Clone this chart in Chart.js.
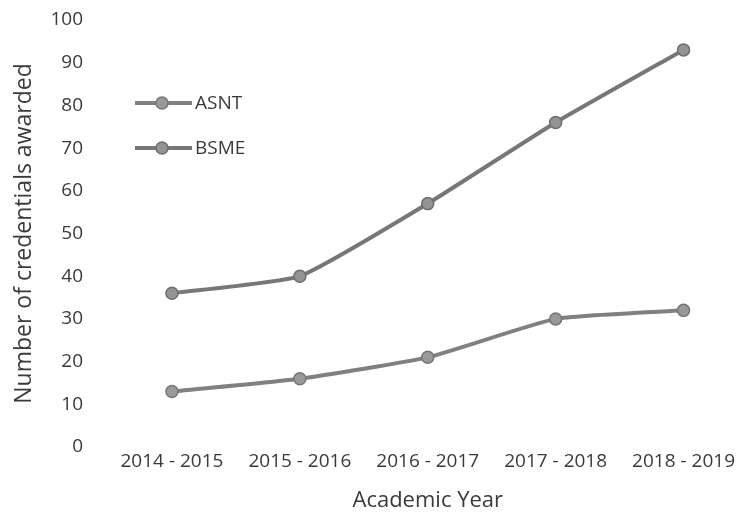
<!DOCTYPE html>
<html>
<head>
<meta charset="utf-8">
<script src="https://cdn.jsdelivr.net/npm/chart.js@4/dist/chart.umd.min.js"></script>
<style>
  html, body { margin: 0; padding: 0; background: #fff; }
  #wrap { width: 755px; height: 529px; }
</style>
</head>
<body>
<div id="wrap"><canvas id="lineChart" width="755" height="529"></canvas></div>
<script>
  // academic years and credentials awarded per program
  var years = ["2014 - 2015", "2015 - 2016", "2016 - 2017", "2017 - 2018", "2018 - 2019"];
  var asnt = [13, 16, 21, 30, 32];
  var bsme = [36, 40, 57, 76, 93];
  var yTicks = [0, 10, 20, 30, 40, 50, 60, 70, 80, 90, 100];

  var fontFamily = "'Open Sans', 'Liberation Sans', sans-serif";

  // legend sits inside the plot, line-with-marker swatch then label
  var insideLegend = {
    id: 'insideLegend',
    afterDraw: function (chart) {
      var ctx = chart.ctx;
      var items = chart.data.datasets;
      ctx.save();
      items.forEach(function (ds, i) {
        var y = 103 + i * 45;
        ctx.strokeStyle = ds.borderColor;
        ctx.lineWidth = 4;
        ctx.beginPath();
        ctx.moveTo(135, y);
        ctx.lineTo(192, y);
        ctx.stroke();
        ctx.beginPath();
        ctx.arc(162, y, 6, 0, Math.PI * 2);
        ctx.fillStyle = ds.pointBackgroundColor;
        ctx.fill();
        ctx.lineWidth = 1.5;
        ctx.strokeStyle = ds.pointBorderColor;
        ctx.stroke();
        ctx.fillStyle = '#3a3a3a';
        ctx.font = '19px ' + fontFamily;
        ctx.textBaseline = 'middle';
        ctx.fillText(ds.label, 195, y + 1);
      });
      ctx.restore();
    }
  };

  var ctx = document.getElementById("lineChart").getContext('2d');
  var myChart = new Chart(ctx, {
    type: 'line',
    data: {
      labels: years,
      datasets: [{
        label: 'ASNT',
        data: asnt,
        borderColor: '#808080',
        borderWidth: 4,
        pointRadius: 6,
        pointBackgroundColor: '#999999',
        pointBorderColor: '#767676',
        pointBorderWidth: 1.5,
        tension: 0.15
      },
      {
        label: 'BSME',
        data: bsme,
        borderColor: '#777777',
        borderWidth: 4,
        pointRadius: 6,
        pointBackgroundColor: '#949494',
        pointBorderColor: '#6e6e6e',
        pointBorderWidth: 1.5,
        tension: 0.15
      }]
    },
    options: {
      responsive: false,
      animation: false,
      layout: { padding: { top: 20, right: 5, left: 0, bottom: 0 } },
      plugins: { legend: { display: false }, tooltip: { enabled: false } },
      scales: {
        x: {
          offset: true,
          grid: { display: false, drawTicks: false },
          border: { display: false },
          ticks: { color: '#3a3a3a', font: { family: fontFamily, size: 19 }, padding: 3, maxRotation: 0 },
          title: { display: true, text: 'Academic Year', color: '#3a3a3a', font: { family: fontFamily, size: 22 }, padding: { top: 0, bottom: 15 } },
          afterFit: function (scale) { scale.height = 82; }
        },
        y: {
          min: 0,
          max: 100,
          grid: { display: false, drawTicks: false },
          border: { display: false },
          afterBuildTicks: function (scale) { scale.ticks = yTicks.map(function (v) { return { value: v }; }); },
          ticks: { color: '#3a3a3a', font: { family: fontFamily, size: 19 }, padding: 25 },
          title: { display: true, text: 'Number of credentials awarded', color: '#3a3a3a', font: { family: fontFamily, size: 23 }, padding: { top: 11, bottom: 0 } },
          afterFit: function (scale) {
            scale.width = 108;
            // tick padding would otherwise push the plot top down
            scale.paddingTop = 0;
            scale.paddingBottom = 0;
          }
        }
      }
    },
    plugins: [insideLegend]
  });
</script>
</body>
</html>
